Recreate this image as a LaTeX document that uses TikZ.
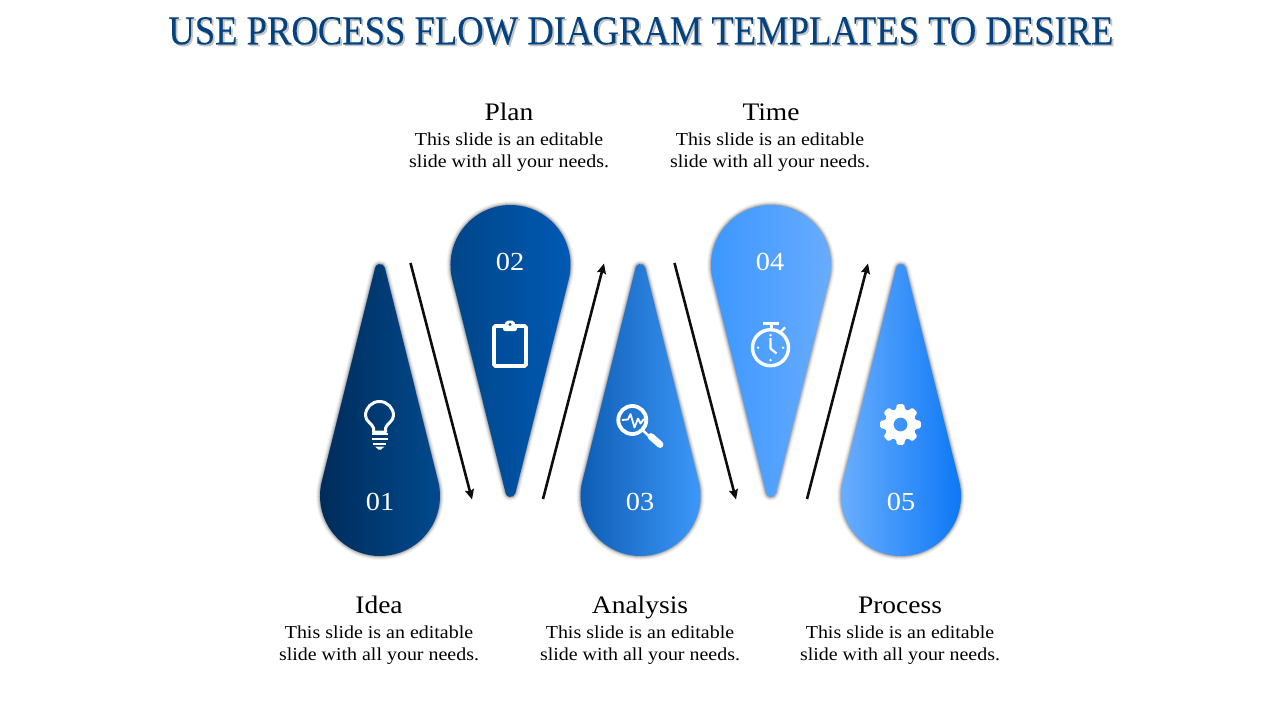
\documentclass[tikz,border=0pt]{standalone}
\usepackage{fontspec}
\setmainfont{Liberation Serif}
\newfontfamily\cambrialike[FakeStretch=1.09]{Liberation Serif}
\newfontfamily\titlelike[FakeStretch=0.893,FakeBold=0.1]{Liberation Serif}
\usetikzlibrary{arrows.meta}
\definecolor{titleblue}{RGB}{4,66,126}
\tikzset{
  x=1pt,y=-1pt,
  titletext/.style={font=\titlelike\fontsize{41}{46}\selectfont,inner sep=0pt},
  headtext/.style={font=\cambrialike\fontsize{25.2}{30}\selectfont,text=black,inner sep=0pt,anchor=base},
  bodytext/.style={font=\cambrialike\fontsize{18.3}{22}\selectfont,text=black,align=center,inner sep=0pt},
  numtext/.style={font=\cambrialike\fontsize{26}{30}\selectfont,text=white,inner sep=0pt},
  flowarrow/.style={draw=black!95,line width=2.6pt,-{Stealth[length=10pt,width=9pt,inset=1.5pt]}},
  iconline/.style={draw=white,line width=3pt,fill=none},
  iconfill/.style={fill=white,draw=none},
}
\newcommand{\dropoutline}{(-58.21,14.54) arc[start angle=165.98,end angle=374.02,radius=60] -- (4.85,228.21) arc[start angle=14.02,end angle=165.98,radius=5] -- cycle}
% centre x, centre y of the round end, flip (1 = tip down, -1 = tip up), left colour, right colour
\newcommand{\teardrop}[5]{%
  \begin{scope}[shift={(#1,#2)},yscale=#3]
    \foreach \w/\o in {8/.04,6/.06,4/.08,2.5/.10,1/.12}
      \draw[black,opacity=\o,line width=\w pt,line join=round] \dropoutline;
    \shade[left color=#4,right color=#5] \dropoutline;
  \end{scope}}
\begin{document}
\begin{tikzpicture}
\useasboundingbox (0,0) rectangle (1280,720);
\fill[white] (0,0) rectangle (1280,720);

% title
\node[titletext,text=black,opacity=.22] (titleshadow) at (642.8,32.8) {USE PROCESS FLOW DIAGRAM TEMPLATES TO DESIRE};
\node[titletext,text=titleblue] (title) at (641,31) {USE PROCESS FLOW DIAGRAM TEMPLATES TO DESIRE};

% drops
\definecolor{d1l}{RGB}{0,42,88}\definecolor{d1r}{RGB}{0,74,142}
\definecolor{d2l}{RGB}{0,68,134}\definecolor{d2r}{RGB}{0,90,180}
\definecolor{d3l}{RGB}{12,90,176}\definecolor{d3r}{RGB}{60,152,250}
\definecolor{d4l}{RGB}{58,150,255}\definecolor{d4r}{RGB}{104,172,255}
\definecolor{d5l}{RGB}{110,176,255}\definecolor{d5r}{RGB}{12,120,245}
\teardrop{380}{496}{-1}{d1l}{d1r}
\teardrop{510.5}{265}{1}{d2l}{d2r}
\teardrop{640.5}{496}{-1}{d3l}{d3r}
\teardrop{771}{265}{1}{d4l}{d4r}
\teardrop{901}{496}{-1}{d5l}{d5r}

% numbers
\node[numtext] (n1) at (380,502) {01};
\node[numtext] (n2) at (510,262) {02};
\node[numtext] (n3) at (640,502) {03};
\node[numtext] (n4) at (770,262) {04};
\node[numtext] (n5) at (901,502) {05};

% arrows
\coordinate (a1s) at (410.5,263); \coordinate (a1e) at (472,499.5);
\coordinate (a2s) at (543,499);   \coordinate (a2e) at (604,263.5);
\coordinate (a3s) at (674.5,263); \coordinate (a3e) at (736,499.5);
\coordinate (a4s) at (807,499);   \coordinate (a4e) at (868,263.5);
\draw[flowarrow] (a1s) -- (a1e);
\draw[flowarrow] (a2s) -- (a2e);
\draw[flowarrow] (a3s) -- (a3e);
\draw[flowarrow] (a4s) -- (a4e);

% bulb
\draw[iconline,line cap=round,line join=round] (373.5,432) -- (373.5,428) .. controls (372,423) and (365.5,421.5) .. (365.5,415.5) arc[start angle=180,end angle=360,radius=14] .. controls (393.5,421.5) and (387,423) .. (385.5,428) -- (385.5,432) -- cycle;
\draw[white,line width=2.6pt] (371.5,434) -- (387.5,434);
\draw[white,line width=2.6pt] (371.5,439) -- (387.5,439);
\draw[white,line width=2.6pt] (373,444) -- (386,444);
\fill[white] (375,446.5) -- (384.5,446.5) -- (381,449.5) -- (378.5,449.5) -- cycle;

% clipboard
\draw[iconline,line width=3.6pt,rounded corners=1.5pt] (494,326) rectangle (526,366);
\fill[white,rounded corners=2pt] (503,331) -- (503,325) .. controls (505,324) and (505.5,320.5) .. (510,320.5) .. controls (514.5,320.5) and (515,324) .. (517,325) -- (517,331) -- cycle;
\fill[d2l!50!d2r] (510,324.5) circle[radius=1.7];

% magnifier
\draw[iconline,line width=3.8pt] (632.3,420) circle[radius=14];
\draw[white,line width=2.4pt] (643,430.5) -- (650,437);
\draw[white,line width=6.8pt,line cap=round] (651,436.5) -- (660,444.5);
\draw[white,line width=1.8pt,line join=round] (622,420) -- (628,419.5) -- (630.5,414) -- (634.5,427.5) -- (638,418.5) -- (640.5,423.5) -- (643.5,419.5) -- (647,419.5);

% stopwatch
\draw[iconline,line width=3.4pt] (770.5,347.7) circle[radius=18];
\draw[white,line width=3pt] (763,323) -- (779,323);
\draw[white,line width=3pt] (771,323) -- (771,329);
\draw[white,line width=2.2pt] (781,331.5) -- (785,327.5);
\draw[white,line width=2.2pt,line join=round] (770.5,338) -- (770.5,348.5) -- (776.5,353.5);
\foreach \dx/\dy in {0/-12.5,12.5/0,0/12.5,-12.5/0}
  \fill[white] (770.5+\dx,347.7+\dy) circle[radius=1.3];

% gear
\begin{scope}[shift={(900.5,424.5)}]
  \fill[white,even odd rule,rounded corners=1.4pt]
    (-17:15.5) -- (-10:20.7) -- (10:20.7) -- (17:15.5)
    \foreach \a in {45,90,135,180,225,270,315} { -- (\a-17:15.5) -- (\a-10:20.7) -- (\a+10:20.7) -- (\a+17:15.5) }
    -- cycle
    (0,0) circle[radius=7];
\end{scope}

% labels
\node[headtext] (hplan) at (509,120) {Plan};
\node[bodytext] (bplan) at (509,152) {This slide is an editable\\slide with all your needs.};
\node[headtext] (htime) at (771,120) {Time};
\node[bodytext] (btime) at (770,152) {This slide is an editable\\slide with all your needs.};
\node[headtext] (hidea) at (379,613) {Idea};
\node[bodytext] (bidea) at (379,645) {This slide is an editable\\slide with all your needs.};
\node[headtext] (hanal) at (640,613) {Analysis};
\node[bodytext] (banal) at (640,645) {This slide is an editable\\slide with all your needs.};
\node[headtext] (hproc) at (900,613) {Process};
\node[bodytext] (bproc) at (900,645) {This slide is an editable\\slide with all your needs.};
\end{tikzpicture}
\end{document}
